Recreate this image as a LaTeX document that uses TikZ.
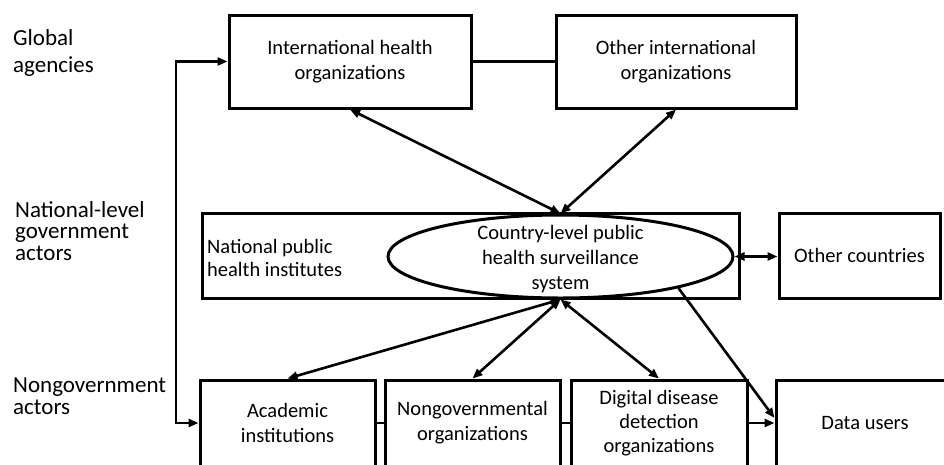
\documentclass[tikz,border=0pt]{standalone}
\usepackage{fontspec}
\setmainfont{Carlito}
\usetikzlibrary{arrows.meta,shapes.geometric}
\begin{document}
\begin{tikzpicture}[x=1pt,y=-1pt,
  box/.style={draw, line width=3pt, inner sep=0pt, align=center,
    font=\fontsize{20.5}{25}\selectfont},
  tier/.style={anchor=north west, inner sep=0pt, align=left,
    font=\fontsize{23}{27}\selectfont},
  link/.style={line width=2.6pt},
  tip/.style={-{Triangle[length=10pt,width=8pt]}},
  both/.style={{Triangle[length=10pt,width=8pt]}-{Triangle[length=10pt,width=8pt]}},
]
\useasboundingbox (0,0) rectangle (944,464);

% tier labels on the left
\node[tier] (glob) at (13,29) {Global\\agencies};
\node[tier, font=\fontsize{23}{21.5}\selectfont] (natl) at (15,201) {National-level\\government\\actors};
\node[tier, font=\fontsize{23}{22}\selectfont] (nong) at (13,378) {Nongovernment\\actors};

% global agencies
\node[box, minimum width=242, minimum height=93] (igo) at (350,61.5) {International health\\organizations};
\node[box, minimum width=240, minimum height=93] (oio) at (676,61.5) {Other international\\organizations};

% national level
\node[box, minimum width=537, minimum height=85] (nat) at (470.5,255.5) {};
\node[draw, ellipse, line width=3pt, fill=white, minimum width=345, minimum height=83, inner sep=0pt] (ell) at (560.5,256.5) {};
\node[inner sep=0pt, align=center, font=\fontsize{20.5}{25}\selectfont] (elltext) at ([yshift=-3pt]ell.center) {Country-level public\\health surveillance\\system};
\node[anchor=west, inner sep=0pt, align=left, font=\fontsize{20.5}{23}\selectfont] (nphi) at (207,258) {National public\\health institutes};
\node[box, minimum width=161, minimum height=85] (oc) at (859.5,255.5) {Other countries};

% nongovernment actors
\node[box, minimum width=175, minimum height=86] (acad) at (287.5,423) {Academic\\institutions};
\node[box, minimum width=175, minimum height=86] (ngo) at (472.5,423) {Nongovernmental\\organizations};
\node[box, minimum width=176, minimum height=86, font=\fontsize{20.5}{24}\selectfont] (dig) at (659,423) {Digital disease\\detection\\organizations};
\node[box, minimum width=178, minimum height=86] (du) at (865,423) {Data users};

% connectors
\draw[link] (igo) -- (oio);
\draw[link, both] (igo.south) -- (ell.north);
\draw[link, both] (oio.south) -- (ell.north);
\draw[link, both] (ell.east) -- (ell.east -| oc.west);
\draw[link, both] (ell.south) -- (acad.north);
\draw[link, both] (ell.south) -- (ngo.north);
\draw[link, both] (ell.south) -- (dig.north);
\draw[link, tip] (ell.-15) -- ([yshift=5pt]du.west);
\draw[link] (acad) -- (ngo);
\draw[link] (ngo) -- (dig);
\draw[link, tip] (dig) -- (du);

\coordinate (bus) at (176,61.5);
\draw[link, both] (igo.west) -- (bus) -- (bus |- acad.west) -- (acad.west);
\end{tikzpicture}
\end{document}
